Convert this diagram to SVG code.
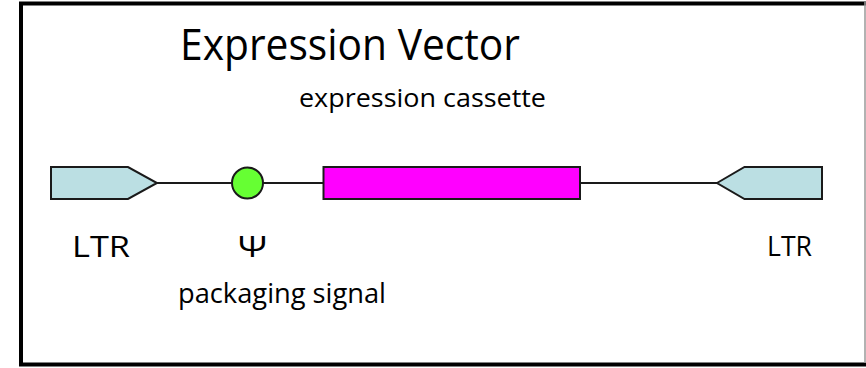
<svg xmlns="http://www.w3.org/2000/svg" width="866" height="368" viewBox="0 0 866 368">
<style>
text{font-family:"Open Sans","Liberation Sans",sans-serif;fill:#000}
.shape{stroke:#1a1a1a;stroke-width:2;stroke-linejoin:miter}
.conn{stroke:#1a1a1a;stroke-width:2;fill:none}
</style>
<rect x="0" y="0" width="866" height="368" fill="#fff"/>
<g id="frame">
<rect x="21" y="3.5" width="850" height="361" fill="none" stroke="#000" stroke-width="4"/>
<line x1="865" y1="2" x2="865" y2="363" stroke="#999" stroke-width="1.5"/>
</g>
<g id="connectors">
<line class="conn" x1="157" y1="183" x2="232" y2="183"/>
<line class="conn" x1="263" y1="183" x2="323" y2="183"/>
<line class="conn" x1="580" y1="183" x2="717" y2="183"/>
</g>
<g id="ltr-left">
<polygon class="shape" points="51,167 128,167 157,183 128,199 51,199" fill="#bbdfe3"/>
</g>
<g id="psi">
<circle class="shape" cx="247.5" cy="183" r="15.5" fill="#66ff33"/>
</g>
<g id="cassette">
<rect class="shape" x="323.5" y="167" width="256.5" height="32" fill="#ff00ff"/>
</g>
<g id="ltr-right">
<polygon class="shape" points="717,183 744.5,167 822,167 822,199 744.5,199" fill="#bbdfe3"/>
</g>
<g id="labels">
<text x="180" y="60" font-size="44" textLength="340" lengthAdjust="spacingAndGlyphs">Expression Vector</text>
<text x="299" y="107" font-size="26" textLength="247" lengthAdjust="spacingAndGlyphs">expression cassette</text>
<text x="72" y="257" font-size="29" textLength="58" lengthAdjust="spacingAndGlyphs">LTR</text>
<text x="238" y="257" font-size="30" textLength="29" lengthAdjust="spacingAndGlyphs">Ψ</text>
<text x="178" y="303" font-size="27" textLength="208" lengthAdjust="spacingAndGlyphs">packaging signal</text>
<text x="767" y="256" font-size="27" textLength="45" lengthAdjust="spacingAndGlyphs">LTR</text>
</g>
</svg>
